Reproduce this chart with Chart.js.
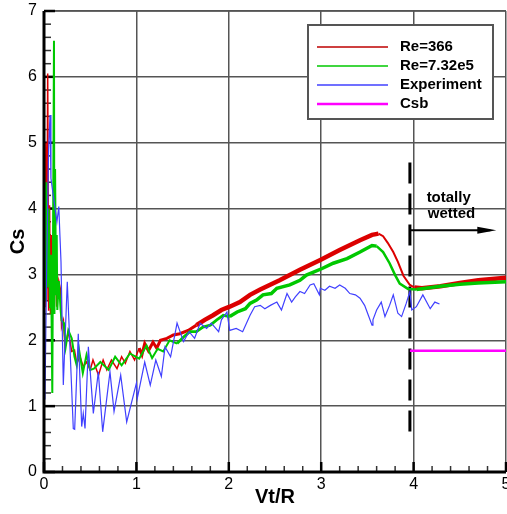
<!DOCTYPE html>
<html>
<head>
<meta charset="utf-8">
<script src="https://cdn.jsdelivr.net/npm/chart.js@4.4.1/dist/chart.umd.min.js"></script>
<style>
  html, body { margin: 0; padding: 0; background: #fff; }
  canvas { display: block; }
</style>
</head>
<body>
<canvas id="csChart" width="507" height="514"></canvas>
<script>
// Re=366 simulation
const re366X = [0, 0.01, 0.02, 0.03, 0.04, 0.05, 0.06, 0.07, 0.08, 0.095, 0.12, 0.137, 0.16, 0.18, 0.19, 0.21, 0.227, 0.263, 0.3, 0.33,
  0.354, 0.39, 0.425, 0.46, 0.5, 0.53, 0.59, 0.64, 0.68, 0.73, 0.79, 0.84, 0.88, 0.93, 0.98, 1.03, 1.06, 1.09, 1.13, 1.18,
  1.22, 1.26, 1.33, 1.40, 1.47, 1.56, 1.65, 1.74, 1.83, 1.92, 2.01, 2.12, 2.23, 2.34, 2.55, 2.77, 2.99, 3.2, 3.42, 3.55,
  3.62, 3.67, 3.72, 3.78, 3.83, 3.89, 3.96, 4.01, 4.09, 4.29, 4.5, 4.7, 5.0];
const re366Y = [4.8, 2.5, 5.0, 2.6, 6.05, 2.45, 4.05, 2.4, 3.6, 2.6, 3.42, 2.51, 2.9, 2.76, 2.2, 2.3, 1.9, 2.13, 1.83, 1.85,
  1.65, 1.75, 1.6, 1.67, 1.55, 1.7, 1.47, 1.7, 1.55, 1.7, 1.57, 1.75, 1.65, 1.83, 1.7, 1.88, 1.78, 1.95, 1.84, 1.97,
  1.88, 2.0, 2.03, 2.08, 2.10, 2.15, 2.23, 2.31, 2.38, 2.46, 2.51, 2.58, 2.69, 2.77, 2.91, 3.07, 3.22, 3.37, 3.52, 3.6,
  3.62, 3.58, 3.48, 3.34, 3.19, 2.98, 2.84, 2.80, 2.79, 2.82, 2.87, 2.91, 2.95];

// Re=7.32e5 simulation
const re732X = [0, 0.012, 0.025, 0.038, 0.05, 0.065, 0.075, 0.09, 0.108, 0.113, 0.12, 0.13, 0.138, 0.144, 0.16, 0.18, 0.19, 0.216, 0.235, 0.263,
  0.3, 0.33, 0.354, 0.38, 0.42, 0.46, 0.5, 0.54, 0.61, 0.7, 0.77, 0.84, 0.93, 1.03, 1.11, 1.17, 1.23, 1.29, 1.36, 1.44,
  1.51, 1.58, 1.65, 1.72, 1.8, 1.87, 1.94, 2.01, 2.09, 2.18, 2.23, 2.3, 2.37, 2.46, 2.52, 2.66, 2.77, 2.84, 3.01, 3.13,
  3.28, 3.42, 3.55, 3.6, 3.67, 3.74, 3.8, 3.85, 3.94, 4.03, 4.29, 4.5, 4.7, 5.0];
const re732Y = [4.85, 2.6, 4.4, 2.8, 4.0, 2.5, 3.3, 1.2, 6.55, 2.4, 4.6, 2.7, 3.6, 2.46, 2.9, 2.46, 2.3, 2.26, 1.9, 2.15,
  2.03, 1.75, 1.62, 1.85, 1.5, 1.78, 1.55, 1.57, 1.67, 1.55, 1.75, 1.62, 1.8, 1.72, 1.92, 1.73, 1.87, 1.83, 2.0, 1.95,
  2.05, 2.13, 2.13, 2.2, 2.23, 2.31, 2.38, 2.36, 2.43, 2.48, 2.56, 2.61, 2.69, 2.71, 2.79, 2.84, 2.91, 2.99, 3.09, 3.17,
  3.24, 3.34, 3.44, 3.43, 3.34, 3.17, 2.99, 2.86, 2.78, 2.77, 2.82, 2.85, 2.87, 2.89];

// Experiment
const expX = [0.01, 0.03, 0.05, 0.065, 0.075, 0.1, 0.14, 0.16, 0.173, 0.184, 0.209, 0.252, 0.317, 0.332, 0.371, 0.408, 0.425, 0.444, 0.48, 0.534,
  0.588, 0.635, 0.714, 0.758, 0.83, 0.895, 1.0, 1.01, 1.09, 1.15, 1.21, 1.27, 1.31, 1.37, 1.44, 1.51, 1.57, 1.63, 1.69, 1.76,
  1.81, 1.89, 1.92, 1.98, 2.01, 2.08, 2.15, 2.23, 2.28, 2.34, 2.39, 2.45, 2.52, 2.57, 2.63, 2.68, 2.72, 2.77, 2.82, 2.88,
  2.92, 2.98, 2.99, 3.04, 3.09, 3.15, 3.2, 3.26, 3.31, 3.37, 3.42, 3.47, 3.51, 3.55, 3.56, 3.6, 3.65, 3.69, 3.74, 3.78,
  3.83, 3.87, 3.92, 3.96, 3.98, 4.03, 4.10, 4.18, 4.23, 4.28];
const expY = [1.1, 3.2, 4.9, 5.42, 4.46, 4.2, 3.8, 4.03, 3.57, 3.19, 1.32, 2.89, 0.66, 0.65, 2.10, 0.69, 0.89, 0.66, 1.90, 0.89,
  1.52, 0.61, 1.52, 0.92, 1.47, 0.76, 1.35, 1.12, 1.67, 1.32, 1.70, 1.45, 1.90, 1.75, 2.26, 1.98, 2.13, 2.03, 2.26, 2.18,
  2.26, 2.13, 2.31, 2.43, 2.15, 2.18, 2.13, 2.38, 2.51, 2.53, 2.48, 2.53, 2.58, 2.46, 2.71, 2.58, 2.66, 2.74, 2.71, 2.84,
  2.86, 2.69, 2.79, 2.76, 2.82, 2.79, 2.84, 2.79, 2.71, 2.69, 2.64, 2.53, 2.38, 2.23, 2.31, 2.46, 2.58, 2.36, 2.53, 2.69,
  2.41, 2.36, 2.56, 2.74, 2.46, 2.51, 2.69, 2.48, 2.58, 2.55];

// Csb level and annotation marks
const csbX = [3.96, 5.0];
const csbY = [1.84, 1.84];
const wetLineX = [3.96, 3.96];
const wetLineY = [4.7, 0.56];
const arrowX = [3.96, 4.83];
const arrowY = [3.67, 3.67];
const noteLines = ['totally', 'wetted'];
const noteX = [4.38, 4.41];
const noteY = [4.16, 3.92];

const xTicks = [0, 1, 2, 3, 4, 5];
const yTicks = [0, 1, 2, 3, 4, 5, 6, 7];
const legendLabels = ['Re=366', 'Re=7.32e5', 'Experiment', 'Csb'];

function toPoints(xs, ys) {
    return xs.map((x, i) => ({ x: x, y: ys[i] }));
}

const colors = {
    red: 'rgb(220, 0, 0)',
    green: 'rgb(0, 200, 0)',
    blue: 'rgb(64, 64, 255)',
    magenta: 'rgb(255, 0, 255)'
};
const fontFamily = '"Liberation Sans", Arial, sans-serif';

// thin at the start, band-like where the simulation oscillates fast
function redWidth(ctx) {
    const x = ctx.p0.parsed.x;
    if (x < 1.0) return 1.5;
    if (x < 1.6) return 3;
    if (x > 3.55 && x < 4.0) return 2;
    return 4.5;
}
function greenWidth(ctx) {
    const x = ctx.p0.parsed.x;
    if (x < 1.4) return 2;
    if (x < 2.0) return 2.8;
    if (x > 3.55 && x < 3.95) return 2.5;
    return 3.5;
}

const overlayPlugin = {
    id: 'overlay',
    beforeDatasetsDraw(chart) {
        const c = chart.ctx;
        const xs = chart.scales.x, ys = chart.scales.y;
        const area = chart.chartArea;
        c.save();
        // top frame line (value 7)
        c.strokeStyle = '#555';
        c.lineWidth = 1.5;
        c.beginPath();
        c.moveTo(area.left, area.top);
        c.lineTo(area.right, area.top);
        c.stroke();
        // inward ticks
        for (let i = 0; i <= 25; i++) {
            const v = i * 0.2;
            const major = i % 5 === 0;
            const px = xs.getPixelForValue(v);
            c.strokeStyle = major ? '#000' : '#333';
            c.lineWidth = major ? 2.5 : 1.5;
            c.beginPath();
            c.moveTo(px, area.bottom);
            c.lineTo(px, area.bottom - (major ? 10 : 6));
            c.stroke();
        }
        for (let i = 0; i <= 35; i++) {
            const v = i * 0.2;
            const major = i % 5 === 0;
            const py = ys.getPixelForValue(v);
            c.strokeStyle = major ? '#000' : '#333';
            c.lineWidth = major ? 2.5 : 1.5;
            c.beginPath();
            c.moveTo(area.left, py);
            c.lineTo(area.left + (major ? 11 : 7), py);
            c.stroke();
        }
        c.restore();
    },
    afterDatasetsDraw(chart) {
        const c = chart.ctx;
        const xs = chart.scales.x, ys = chart.scales.y;
        const area = chart.chartArea;
        c.save();

        // axis lines
        c.strokeStyle = '#000';
        c.lineWidth = 3;
        c.beginPath();
        c.moveTo(area.left, area.top);
        c.lineTo(area.left, area.bottom);
        c.lineTo(area.right, area.bottom);
        c.stroke();

        // arrow head
        const ax = xs.getPixelForValue(arrowX[1]);
        const ay = ys.getPixelForValue(arrowY[1]);
        c.fillStyle = '#000';
        c.beginPath();
        c.moveTo(ax + 6, ay);
        c.lineTo(ax - 13, ay - 3.5);
        c.lineTo(ax - 13, ay + 3.5);
        c.closePath();
        c.fill();

        // note text
        c.font = 'bold 15px ' + fontFamily;
        c.textAlign = 'center';
        c.textBaseline = 'middle';
        noteLines.forEach((t, i) => {
            c.fillText(t, xs.getPixelForValue(noteX[i]), ys.getPixelForValue(noteY[i]));
        });

        // legend box
        const bx = 308, by = 25, bw = 185, bh = 94;
        c.fillStyle = '#fff';
        c.fillRect(bx, by, bw, bh);
        c.strokeStyle = '#555';
        c.lineWidth = 2;
        c.strokeRect(bx, by, bw, bh);
        const legendColors = ['rgb(190, 0, 0)', colors.green, colors.blue, colors.magenta];
        const legendWidths = [1.3, 1.3, 1.3, 2.5];
        c.textAlign = 'left';
        legendLabels.forEach((label, i) => {
            const ly = 47 + i * 19;
            c.strokeStyle = legendColors[i];
            c.lineWidth = legendWidths[i];
            c.beginPath();
            c.moveTo(317, ly);
            c.lineTo(388, ly);
            c.stroke();
            c.fillStyle = '#000';
            c.fillText(label, 400, ly);
        });
        c.restore();
    }
};

const ctx = document.getElementById('csChart').getContext('2d');
const csChart = new Chart(ctx, {
    type: 'scatter',
    data: {
        datasets: [
            {
                label: legendLabels[3],
                data: toPoints(csbX, csbY),
                borderColor: colors.magenta,
                borderWidth: 2.5
            },
            {
                label: legendLabels[2],
                data: toPoints(expX, expY),
                borderColor: colors.blue,
                borderWidth: 1.2
            },
            {
                label: legendLabels[1],
                data: toPoints(re732X, re732Y),
                borderColor: colors.green,
                borderWidth: 2,
                segment: { borderWidth: greenWidth }
            },
            {
                label: legendLabels[0],
                data: toPoints(re366X, re366Y),
                borderColor: colors.red,
                borderWidth: 1.5,
                segment: { borderWidth: redWidth }
            },
            {
                label: 'wetted',
                data: toPoints(wetLineX, wetLineY),
                borderColor: '#000',
                borderWidth: 3,
                borderDash: [21, 10]
            },
            {
                label: 'arrow',
                data: toPoints(arrowX, arrowY),
                borderColor: '#000',
                borderWidth: 2
            }
        ]
    },
    options: {
        responsive: false,
        animation: false,
        showLine: true,
        elements: {
            point: { radius: 0, hoverRadius: 0 },
            line: { tension: 0, fill: false }
        },
        layout: { padding: { top: 11, right: 1, left: 0, bottom: 0 } },
        plugins: {
            legend: { display: false },
            tooltip: { enabled: false }
        },
        scales: {
            x: {
                type: 'linear',
                min: 0,
                max: 5,
                afterBuildTicks: function(scale) {
                    scale.ticks = xTicks.map(v => ({ value: v }));
                },
                afterFit: function(scale) {
                    scale.height = 42;
                    scale.paddingLeft = 0;
                    scale.paddingRight = 0;
                },
                ticks: {
                    color: '#000',
                    padding: 3,
                    maxRotation: 0,
                    font: { family: fontFamily, size: 16 }
                },
                grid: { color: '#555', lineWidth: 1.5, drawTicks: false },
                border: { display: false },
                title: {
                    display: true,
                    text: 'Vt/R',
                    color: '#000',
                    padding: { top: 0, bottom: 5 },
                    font: { family: fontFamily, size: 20, weight: 'bold' }
                }
            },
            y: {
                type: 'linear',
                min: 0,
                max: 7,
                afterBuildTicks: function(scale) {
                    scale.ticks = yTicks.map(v => ({ value: v }));
                },
                afterFit: function(scale) {
                    scale.width = 44;
                    scale.paddingTop = 0;
                    scale.paddingBottom = 0;
                },
                ticks: {
                    color: '#000',
                    padding: 7,
                    font: { family: fontFamily, size: 16 }
                },
                grid: { color: '#555', lineWidth: 1.5, drawTicks: false },
                border: { display: false },
                title: {
                    display: true,
                    text: 'Cs',
                    color: '#000',
                    padding: { top: 6, bottom: 0 },
                    font: { family: fontFamily, size: 20, weight: 'bold' }
                }
            }
        }
    },
    plugins: [overlayPlugin]
});
</script>
</body>
</html>
